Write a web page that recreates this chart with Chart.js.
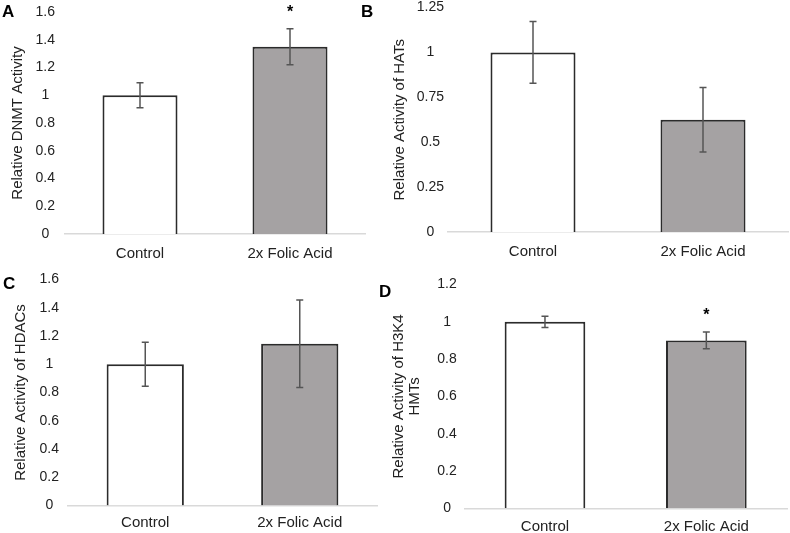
<!DOCTYPE html>
<html>
<head>
<meta charset="utf-8">
<script src="https://cdn.jsdelivr.net/npm/chart.js@4.4.1/dist/chart.umd.min.js"></script>
<style>
  body { margin: 0; background: #fff; }
  #wrap { position: relative; width: 790px; height: 533px; overflow: hidden; }
  .panel { position: absolute; }
  .letter { position: absolute; font: bold 17px 'Liberation Sans', Arial, sans-serif; line-height: 17px; color: #000; }
</style>
</head>
<body>
<div id="wrap">
  <div class="panel" style="left:0;top:0;width:370px;height:265px"><canvas id="chartA"></canvas></div>
  <div class="panel" style="left:380px;top:0;width:410px;height:265px"><canvas id="chartB"></canvas></div>
  <div class="panel" style="left:0;top:265px;width:380px;height:268px"><canvas id="chartC"></canvas></div>
  <div class="panel" style="left:380px;top:265px;width:410px;height:268px"><canvas id="chartD"></canvas></div>
  <div class="letter" style="left:2px;top:3px">A</div>
  <div class="letter" style="left:361px;top:3px">B</div>
  <div class="letter" style="left:3px;top:275px">C</div>
  <div class="letter" style="left:379px;top:283px">D</div>
</div>
<script>
const categories = ['Control', '2x Folic Acid'];

// A - DNMT
const dnmtMean = [1.0, 1.35];
const dnmtErr = [0.09, 0.13];
const dnmtSig = [false, true];
const dnmtTicks = [0, 0.2, 0.4, 0.6, 0.8, 1, 1.2, 1.4, 1.6];

// B - HATs
const hatMean = [1.0, 0.625];
const hatErr = [0.172, 0.18];
const hatSig = [false, false];
const hatTicks = [0, 0.25, 0.5, 0.75, 1, 1.25];

// C - HDACs
const hdacMean = [1.0, 1.145];
const hdacErr = [0.155, 0.31];
const hdacSig = [false, false];
const hdacTicks = [0, 0.2, 0.4, 0.6, 0.8, 1, 1.2, 1.4, 1.6];

// D - H3K4 HMTs
const hmtMean = [1.0, 0.90];
const hmtErr = [0.03, 0.045];
const hmtSig = [false, true];
const hmtTicks = [0, 0.2, 0.4, 0.6, 0.8, 1, 1.2];

const FONT = "'Liberation Sans', Arial, sans-serif";
const barFills = ['#ffffff', '#a5a2a3'];

// error bars + significance stars, placed with the chart's own scales
const errorBarPlugin = {
  id: 'errorBars',
  afterDatasetsDraw(chart) {
    const ctx = chart.ctx;
    const ds = chart.data.datasets[0];
    const meta = chart.getDatasetMeta(0);
    const y = chart.scales.y;
    ctx.save();
    meta.data.forEach((bar, i) => {
      const top = y.getPixelForValue(ds.data[i] + ds.errors[i]);
      const bot = y.getPixelForValue(ds.data[i] - ds.errors[i]);
      const x = bar.x;
      ctx.strokeStyle = '#555555';
      ctx.lineWidth = 1.5;
      ctx.beginPath();
      ctx.moveTo(x, top); ctx.lineTo(x, bot);
      ctx.moveTo(x - 3.5, top); ctx.lineTo(x + 3.5, top);
      ctx.moveTo(x - 3.5, bot); ctx.lineTo(x + 3.5, bot);
      ctx.stroke();
      if (ds.sig[i]) {
        ctx.fillStyle = '#000';
        ctx.font = 'bold 16px ' + FONT;
        ctx.textAlign = 'center';
        ctx.textBaseline = 'middle';
        ctx.fillText('*', x, top - 16);
      }
    });
    ctx.restore();
  }
};

function makePanel(id, means, errs, sig, ticks, title, p) {
  const ctx = document.getElementById(id);
  return new Chart(ctx, {
    type: 'bar',
    data: {
      labels: categories,
      datasets: [{
        data: means,
        errors: errs,
        sig: sig,
        backgroundColor: barFills,
        borderColor: '#2b2b2b',
        borderWidth: 2,
        barPercentage: 1,
        categoryPercentage: 0.5
      }]
    },
    options: {
      responsive: true,
      maintainAspectRatio: false,
      animation: false,
      layout: { autoPadding: false, padding: { top: p.top, right: p.right, left: 0, bottom: 0 } },
      plugins: { legend: { display: false }, tooltip: { enabled: false } },
      scales: {
        x: {
          grid: { display: false, drawTicks: false },
          border: { display: true, color: '#d9d9d9', width: 1.5 },
          ticks: { color: '#222', padding: p.xPad, font: { family: FONT, size: 15 } },
          afterFit: s => { s.height = p.xH; }
        },
        y: {
          min: 0,
          max: ticks[ticks.length - 1],
          grid: { display: false, drawTicks: false },
          border: { display: false },
          afterBuildTicks: s => { s.ticks = ticks.map(v => ({ value: v })); },
          ticks: {
            color: '#222',
            padding: p.yPad,
            crossAlign: 'center',
            // tiny lineHeight keeps the tick padding from eating into the plot height
            font: { family: FONT, size: 14, lineHeight: 0.1 },
            callback: v => String(+v.toFixed(2))
          },
          title: {
            display: true,
            text: title,
            color: '#222',
            padding: { top: p.tPad, bottom: 0 },
            font: { family: FONT, size: 15, lineHeight: 1.05 }
          },
          afterFit: s => { s.width = p.yW; }
        }
      }
    },
    plugins: [errorBarPlugin]
  });
}

makePanel('chartA', dnmtMean, dnmtErr, dnmtSig, dnmtTicks, 'Relative DNMT Activity',
  { top: 12, right: 5, xH: 31, xPad: 11, yW: 65, yPad: 10, tPad: 10 });
makePanel('chartB', hatMean, hatErr, hatSig, hatTicks, 'Relative Activity of HATs',
  { top: 7.5, right: 2, xH: 33, xPad: 11, yW: 68, yPad: 4, tPad: 12 });
makePanel('chartC', hdacMean, hdacErr, hdacSig, hdacTicks, 'Relative Activity of HDACs',
  { top: 14.5, right: 3, xH: 27.5, xPad: 8, yW: 68, yPad: 9, tPad: 13 });
makePanel('chartD', hmtMean, hmtErr, hmtSig, hmtTicks, ['Relative Activity of H3K4', 'HMTs'],
  { top: 19.5, right: 3, xH: 24.7, xPad: 10, yW: 84.3, yPad: 7.5, tPad: 11 });
</script>
</body>
</html>
